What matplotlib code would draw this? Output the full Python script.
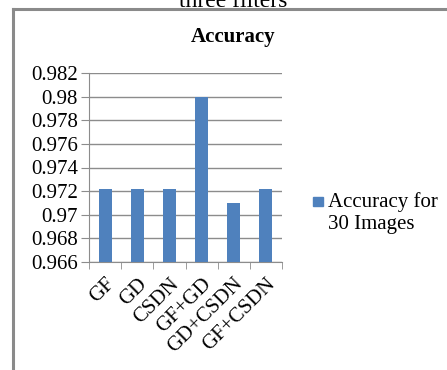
import matplotlib.pyplot as plt
from matplotlib.patches import Rectangle
from matplotlib.lines import Line2D

plt.rcParams['font.family'] = ['Liberation Serif', 'DejaVu Serif']

# accuracy per filter combination
methods = ['GF', 'GD', 'CSDN', 'GF+GD', 'GD+CSDN', 'GF+CSDN']
accuracy = [0.9722, 0.9722, 0.9722, 0.98, 0.971, 0.9722]
yticks = [0.966, 0.968, 0.97, 0.972, 0.974, 0.976, 0.978, 0.98, 0.982]
ytick_labels = ['0.966', '0.968', '0.97', '0.972', '0.974', '0.976', '0.978', '0.98', '0.982']

W, H = 447, 370
fig = plt.figure(figsize=(W / 100, H / 100), dpi=100)

# chart frame (left and top edges only show)
fig.add_artist(Line2D([12.5 / W, 12.5 / W], [0, 1 - 9 / H], color='#8a8a8a', lw=2.2))
fig.add_artist(Line2D([12.5 / W, 1], [1 - 9 / H, 1 - 9 / H], color='#8a8a8a', lw=2.2))
# caption text above the chart, mostly cut off
fig.text(233 / W, 1 - 7 / H, 'three filters', ha='center', va='baseline', fontsize=17)

ax = fig.add_axes([89 / W, 1 - 262 / H, (282 - 89) / W, (262 - 73) / H])
x = list(range(len(methods)))
ax.bar(x, accuracy, width=0.4, color='#4f81bd', zorder=3)

ax.set_ylim(0.966, 0.982)
ax.set_xlim(-0.5, len(methods) - 0.5)
ax.set_yticks(yticks)
ax.set_yticklabels(ytick_labels, fontsize=15)
ax.grid(axis='y', color='#8c8c8c', lw=1, zorder=0)

ax.set_xticks(x)
ax.set_xticklabels(methods, rotation=45, ha='right', rotation_mode='anchor', fontsize=15)
ax.tick_params(axis='x', length=0, pad=9)
ax.set_xticks([i - 0.5 for i in range(len(methods) + 1)], minor=True)
ax.tick_params(axis='x', which='minor', length=5, color='#8c8c8c', direction='out')
ax.tick_params(axis='y', length=6, color='#8c8c8c', pad=2)

for side in ['top', 'right']:
    ax.spines[side].set_visible(False)
ax.spines['left'].set_color('#8c8c8c')
ax.spines['bottom'].set_color('#8c8c8c')

fig.text(233 / W, 1 - 37 / H, 'Accuracy', fontsize=15, fontweight='bold',
         ha='center', va='center')

# legend entry
fig.patches.append(Rectangle((313 / W, 1 - 206 / H), 10 / W, 9 / H,
                             transform=fig.transFigure, color='#4f81bd'))
fig.text(328 / W, 1 - 202 / H, 'Accuracy for', fontsize=15, va='center', ha='left')
fig.text(328 / W, 1 - 224 / H, '30 Images', fontsize=15, va='center', ha='left')

fig.savefig('out.png', dpi=100)
